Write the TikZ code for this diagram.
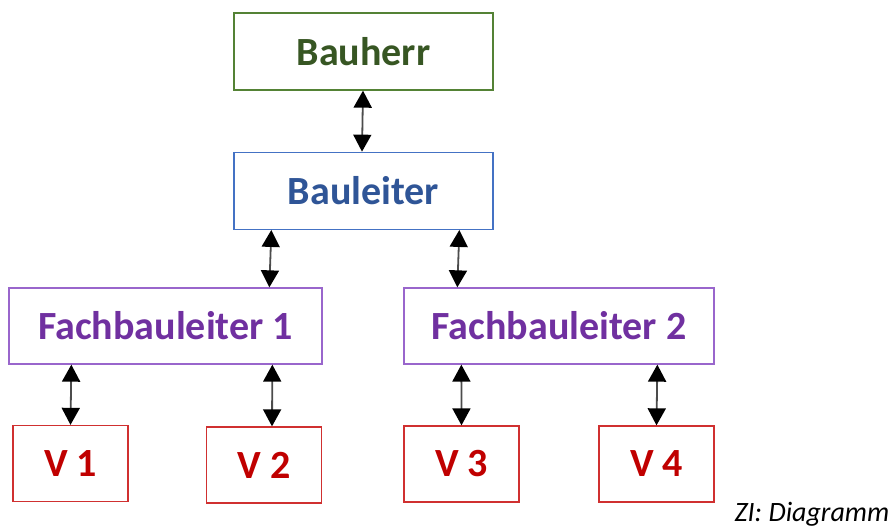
\documentclass[tikz,border=0pt]{standalone}
\usepackage{fontspec}
\setmainfont{Carlito}
\usetikzlibrary{arrows.meta,positioning,calc}

\definecolor{herrgreen}{HTML}{375623}
\definecolor{herrline}{HTML}{548235}
\definecolor{leiterblue}{HTML}{2F5597}
\definecolor{leiterline}{HTML}{4472C4}
\definecolor{fachpurple}{HTML}{7030A0}
\definecolor{fachline}{HTML}{9966CC}
\definecolor{vred}{HTML}{C00000}
\definecolor{vline}{HTML}{D03030}

\begin{document}
\begin{tikzpicture}[
  x=1pt, y=-1pt,
  box/.style={draw, line width=1.3pt, fill=white, minimum height=76pt, inner sep=0pt,
    font=\fontsize{40}{44}\selectfont\bfseries},
  herrbox/.style={box, draw=herrline, text=herrgreen, minimum width=259pt, minimum height=77pt},
  leiterbox/.style={box, draw=leiterline, text=leiterblue, minimum width=259pt, minimum height=77pt},
  fachbox/.style={box, draw=fachline, text=fachpurple},
  vbox/.style={box, draw=vline, text=vred, minimum width=115pt},
  link/.style={<->, line width=1.8pt, draw=black!70},
  >={Triangle[length=17pt, width=18pt, color=black]}
]
  \useasboundingbox (0,0) rectangle (891,527);

  % Nodes
  \node[herrbox] (bauherr) at (363.5,51.5) {Bauherr};
  \node[leiterbox, below=61pt of bauherr] (bauleiter) {Bauleiter};
  \node[fachbox, minimum width=313pt] (fach1) at (165.5,326) {Fachbauleiter 1};
  \node[fachbox, minimum width=310pt] (fach2) at (559,326) {Fachbauleiter 2};
  \node[vbox] (v1) at (70.5,463.5) {V 1};
  \node[vbox] (v2) at (264,465) {V 2};
  \node[vbox] (v3) at (461.5,464) {V 3};
  \node[vbox] (v4) at (656.5,464) {V 4};
  \node[anchor=base west, font=\fontsize{28}{32}\selectfont\itshape] (caption) at (731,521) {ZI: Diagramm};

  % Flows
  \draw[link] ([xshift=-0.5pt]bauherr.south) -- ([xshift=-1.5pt]bauleiter.north);
  \draw[link] ($(bauleiter.south west)+(38,0)$) -- ($(fach1.north west)+(261,0)$);
  \draw[link] ($(bauleiter.south west)+(226,0)$) -- ($(fach2.north west)+(54,0)$);
  \draw[link] ($(fach1.south west)+(63,0)$) -- (v1.north);
  \draw[link] ($(fach1.south west)+(264,0)$) -- ([xshift=8pt]v2.north);
  \draw[link] ($(fach2.south west)+(58,0)$) -- (v3.north);
  \draw[link] ($(fach2.south west)+(254,0)$) -- (v4.north);
\end{tikzpicture}
\end{document}
